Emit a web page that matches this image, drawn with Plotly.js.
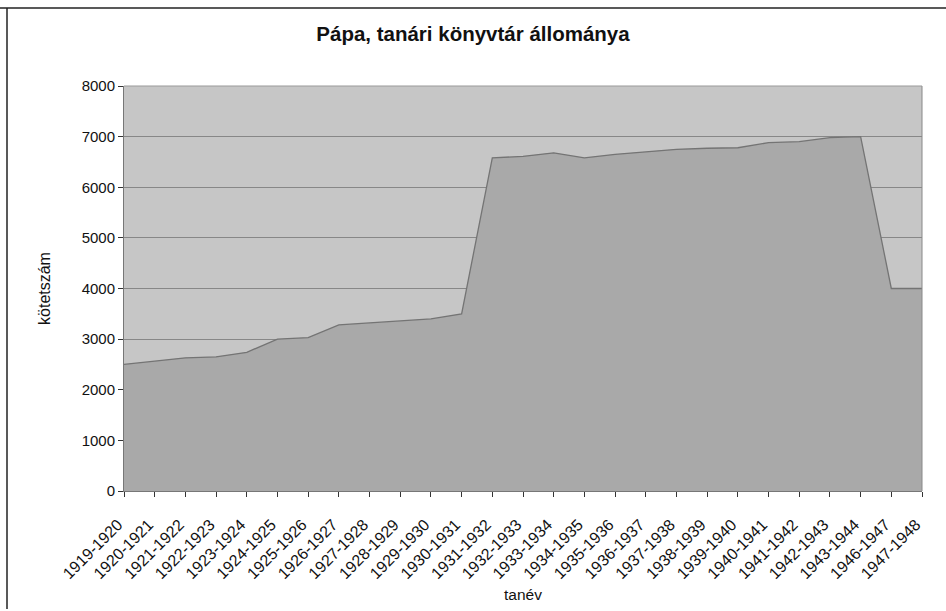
<!DOCTYPE html>
<html>
<head>
<meta charset="utf-8">
<script src="https://cdn.plot.ly/plotly-3.0.1.min.js"></script>
<style>html,body{margin:0;padding:0;background:#fff;}#chart{width:946px;height:611px;}</style>
</head>
<body>
<div id="chart"></div>
<script>
const categories = ["1919-1920","1920-1921","1921-1922","1922-1923","1923-1924","1924-1925","1925-1926","1926-1927","1927-1928","1928-1929","1929-1930","1930-1931","1931-1932","1932-1933","1933-1934","1934-1935","1935-1936","1936-1937","1937-1938","1938-1939","1939-1940","1940-1941","1941-1942","1942-1943","1943-1944","1946-1947","1947-1948"];
const volumes = [2500,2570,2630,2650,2740,3000,3030,3280,3320,3350,3400,3500,6580,6610,6680,6580,6650,6700,6750,6770,6780,6880,6900,6980,7000,4000,4000];
const yTicks = [0,1000,2000,3000,4000,5000,6000,7000,8000];

const font = "Liberation Sans, Arial, sans-serif";
const trace = {
  x: categories, y: volumes, type: 'scatter', mode: 'lines',
  fill: 'tozeroy', fillcolor: '#a9a9a9',
  line: {color: '#747474', width: 1.3},
  hoverinfo: 'x+y'
};
const layout = {
  width: 946, height: 611,
  margin: {l: 124, r: 24, t: 86, b: 120},
  paper_bgcolor: '#ffffff', plot_bgcolor: '#c6c6c6',
  showlegend: false,
  font: {family: font, color: '#111', size: 15},
  title: {text: 'Pápa, tanári könyvtár állománya', x: 0.5, xref: 'container', y: 1 - 34/611, yref: 'container', yanchor: 'middle', font: {family: font, size: 20.5, color: '#111', weight: 'bold'}},
  xaxis: {
    type: 'category', range: [0, categories.length - 1],
    tickangle: -45, ticks: 'outside', ticklen: 5, tickcolor: '#333',
    ticklabelstandoff: 12, ticklabelshift: -6,
    showgrid: false, showline: true, linecolor: '#777', linewidth: 1, mirror: false,
    tickfont: {family: font, size: 16, color: '#111'},
    title: {text: 'tanév', font: {family: font, size: 15.5, color: '#111'}, standoff: 8}
  },
  yaxis: {
    range: [0, 8000], tickvals: yTicks, ticktext: yTicks.map(String),
    ticks: 'outside', ticklen: 5, tickcolor: '#333',
    showgrid: true, gridcolor: '#878787', gridwidth: 1,
    showline: true, linecolor: '#777', linewidth: 1, zeroline: false,
    tickfont: {family: font, size: 15, color: '#111'},
    title: {text: 'kötetszám', font: {family: font, size: 16, color: '#111'}, standoff: 27}
  },
  shapes: [
    {type: 'line', xref: 'paper', yref: 'paper', x0: 1, x1: 1, y0: 0, y1: 1, line: {color: '#888', width: 1}},
    {type: 'line', xref: 'paper', yref: 'paper', x0: 0, x1: 1, y0: 1, y1: 1, line: {color: '#999', width: 1}},
    {type: 'line', xref: 'paper', yref: 'paper', x0: -124/798, x1: (946-124)/798, y0: (611-120-8)/405, y1: (611-120-8)/405, line: {color: '#222', width: 1.5}},
    {type: 'line', xref: 'paper', yref: 'paper', x0: -(124-7)/798, x1: -(124-7)/798, y0: (611-120-8)/405, y1: -(120-2)/405, line: {color: '#222', width: 1.5}}
  ]
};
Plotly.newPlot('chart', [trace], layout, {displayModeBar: false, staticPlot: true});
</script>
</body>
</html>
